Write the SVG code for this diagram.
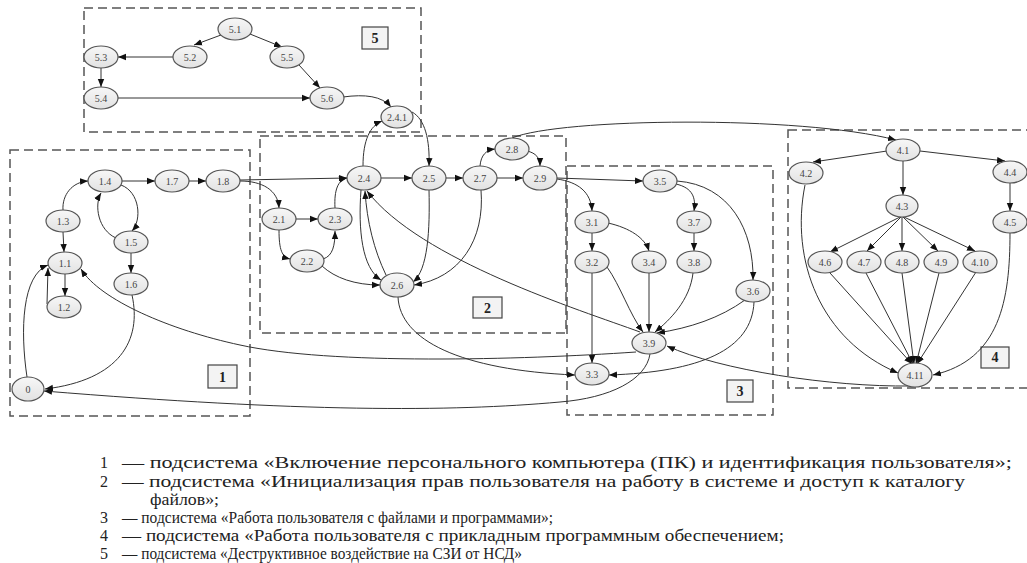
<svg xmlns="http://www.w3.org/2000/svg" width="1027" height="563" viewBox="0 0 1027 563">
<defs>
<linearGradient id="g" x1="0" y1="0" x2="0" y2="1"><stop offset="0" stop-color="#f7f7f7"/><stop offset="1" stop-color="#e2e2e2"/></linearGradient>
<marker id="a" viewBox="0 0 10 10" refX="10" refY="5" markerWidth="8" markerHeight="8" orient="auto" markerUnits="userSpaceOnUse"><path d="M0,1 L10,5 L0,9 z" fill="#111"/></marker>
</defs>
<style>
.box{fill:none;stroke:#555;stroke-width:1.5;stroke-dasharray:9 5}
.node ellipse{fill:url(#g);stroke:#555;stroke-width:1.2}
.node text{font-family:"Liberation Serif",serif;font-size:10px;fill:#444;text-anchor:middle}
.lbl rect{fill:#f3f3f3;stroke:#444;stroke-width:1.2}
.lbl text{font-family:"Liberation Serif",serif;font-size:14px;font-weight:bold;fill:#222;text-anchor:middle}
#edges path{fill:none;stroke:#333;stroke-width:1;marker-end:url(#a)}
.leg{font-family:"Liberation Serif",serif;font-size:16px;fill:#222}
</style>
<rect width="1027" height="563" fill="#fff"/>
<g id="boxes">
<rect class="box" x="84" y="8" width="337" height="124"/>
<rect class="box" x="10" y="150" width="240" height="266"/>
<rect class="box" x="260" y="136" width="306" height="197"/>
<rect class="box" x="567" y="166" width="206" height="249"/>
<rect class="box" x="788" y="130" width="250" height="258"/>
</g>
<g id="labels">
<g id="lbl5" class="lbl"><rect x="362" y="27" width="26" height="22"/><text x="375" y="43">5</text></g>
<g id="lbl1" class="lbl"><rect x="208" y="365" width="29" height="23"/><text x="222.5" y="382">1</text></g>
<g id="lbl2" class="lbl"><rect x="473" y="297" width="29" height="21"/><text x="487.5" y="313">2</text></g>
<g id="lbl3" class="lbl"><rect x="727" y="380" width="26" height="22"/><text x="740" y="396">3</text></g>
<g id="lbl4" class="lbl"><rect x="981" y="347" width="28" height="21"/><text x="995" y="362">4</text></g>
</g>
<g id="edges">
<path d="M221,35 L194,45"/>
<path d="M250,34 L282,47"/>
<path d="M173,57 L118,57"/>
<path d="M101,68 L101,87"/>
<path d="M118,98 L310,98"/>
<path d="M299,65 L320,88"/>
<path d="M343,97 C365,94 382,96 391,107"/>
<path d="M363,166 C363,140 370,126 382,121"/>
<path d="M412,112 C425,119 430,140 429,166"/>
<path d="M63,210 C62,195 72,182 88,181"/>
<path d="M63,232 L64,252"/>
<path d="M122,181 L155,181"/>
<path d="M189,181 L206,181"/>
<path d="M121,185 C140,192 142,220 132,231"/>
<path d="M116,238 C98,230 94,205 101,193"/>
<path d="M131,253 L131,273"/>
<path d="M65,274 L65,296"/>
<path d="M47,304 L48,268"/>
<path d="M27,377 C20,330 22,275 48,265"/>
<path d="M132,295 C142,340 120,380 45,389"/>
<path d="M240,180 L347,178"/>
<path d="M240,181 C262,181 278,190 279,208"/>
<path d="M296,219 L318,219"/>
<path d="M279,230 C279,250 282,257 290,259"/>
<path d="M323,259 C333,256 335,245 335,231"/>
<path d="M335,208 C334,190 338,180 347,178"/>
<path d="M322,266 C335,278 355,285 380,285"/>
<path d="M381,178 L412,178"/>
<path d="M446,178 L463,178"/>
<path d="M497,178 L523,178"/>
<path d="M480,166 C481,155 486,150 495,149"/>
<path d="M527,151 C536,153 540,158 540,166"/>
<path d="M429,190 C430,230 428,270 413,282"/>
<path d="M481,190 C485,240 460,278 414,285"/>
<path d="M361,190 C358,230 362,268 381,280"/>
<path d="M386,275 C374,250 367,222 365,191"/>
<path d="M640,332 C580,310 420,260 367,191"/>
<path d="M557,178 L643,181"/>
<path d="M557,179 C578,182 591,192 592,211"/>
<path d="M676,184 C693,188 696,198 694,211"/>
<path d="M677,181 C730,185 754,230 753,280"/>
<path d="M592,233 L592,251"/>
<path d="M608,223 C630,228 645,238 649,251"/>
<path d="M694,233 L694,251"/>
<path d="M592,273 L592,363"/>
<path d="M607,267 C620,285 630,315 643,332"/>
<path d="M649,273 L649,332"/>
<path d="M693,273 C690,300 670,320 655,332"/>
<path d="M745,300 C720,318 690,328 657,333"/>
<path d="M754,302 C752,350 700,372 609,375"/>
<path d="M398,297 C400,340 460,370 575,375"/>
<path d="M636,352 C520,360 330,365 240,345 C170,330 100,300 81,269"/>
<path d="M650,354 C646,380 610,398 560,402 C450,412 300,412 44,391"/>
<path d="M911,386 C830,387 720,370 667,346"/>
<path d="M512,138 C560,118 800,115 896,140"/>
<path d="M887,151 L813,162"/>
<path d="M903,161 L903,195"/>
<path d="M920,151 L1005,161"/>
<path d="M1010,183 L1010,211"/>
<path d="M900,217 L830,252"/>
<path d="M901,217 L867,251"/>
<path d="M902,217 L902,251"/>
<path d="M903,217 L938,251"/>
<path d="M904,217 L975,251"/>
<path d="M830,273 L912,364"/>
<path d="M866,273 L913,364"/>
<path d="M902,273 L914,364"/>
<path d="M939,273 L916,364"/>
<path d="M976,272 L917,364"/>
<path d="M805,185 C790,260 820,340 898,373"/>
<path d="M1010,233 C1010,300 1000,360 933,375"/>
</g>
<g id="nodes">
<g id="n5_1" class="node"><ellipse cx="235" cy="29" rx="17" ry="11"/><text x="235" y="32.5">5.1</text></g>
<g id="n5_2" class="node"><ellipse cx="190" cy="57" rx="17" ry="11"/><text x="190" y="60.5">5.2</text></g>
<g id="n5_5" class="node"><ellipse cx="287" cy="57" rx="17" ry="11"/><text x="287" y="60.5">5.5</text></g>
<g id="n5_3" class="node"><ellipse cx="101" cy="57" rx="17" ry="11"/><text x="101" y="60.5">5.3</text></g>
<g id="n5_4" class="node"><ellipse cx="101" cy="98" rx="17" ry="11"/><text x="101" y="101.5">5.4</text></g>
<g id="n5_6" class="node"><ellipse cx="327" cy="98" rx="17" ry="11"/><text x="327" y="101.5">5.6</text></g>
<g id="n2_4_1" class="node"><ellipse cx="397" cy="117" rx="16" ry="11"/><text x="397" y="120.5">2.4.1</text></g>
<g id="n1_4" class="node"><ellipse cx="105" cy="181" rx="17" ry="11"/><text x="105" y="184.5">1.4</text></g>
<g id="n1_7" class="node"><ellipse cx="172" cy="181" rx="17" ry="11"/><text x="172" y="184.5">1.7</text></g>
<g id="n1_8" class="node"><ellipse cx="223" cy="181" rx="17" ry="11"/><text x="223" y="184.5">1.8</text></g>
<g id="n1_3" class="node"><ellipse cx="63" cy="221" rx="17" ry="11"/><text x="63" y="224.5">1.3</text></g>
<g id="n1_5" class="node"><ellipse cx="131" cy="242" rx="17" ry="11"/><text x="131" y="245.5">1.5</text></g>
<g id="n1_1" class="node"><ellipse cx="65" cy="263" rx="17" ry="11"/><text x="65" y="266.5">1.1</text></g>
<g id="n1_6" class="node"><ellipse cx="131" cy="284" rx="17" ry="11"/><text x="131" y="287.5">1.6</text></g>
<g id="n1_2" class="node"><ellipse cx="64" cy="307" rx="17" ry="11"/><text x="64" y="310.5">1.2</text></g>
<g id="n0" class="node"><ellipse cx="28" cy="389" rx="16" ry="12"/><text x="28" y="392.5">0</text></g>
<g id="n2_4" class="node"><ellipse cx="364" cy="178" rx="17" ry="12"/><text x="364" y="181.5">2.4</text></g>
<g id="n2_5" class="node"><ellipse cx="429" cy="178" rx="17" ry="12"/><text x="429" y="181.5">2.5</text></g>
<g id="n2_7" class="node"><ellipse cx="480" cy="178" rx="17" ry="12"/><text x="480" y="181.5">2.7</text></g>
<g id="n2_8" class="node"><ellipse cx="512" cy="149" rx="17" ry="11"/><text x="512" y="152.5">2.8</text></g>
<g id="n2_9" class="node"><ellipse cx="540" cy="178" rx="17" ry="12"/><text x="540" y="181.5">2.9</text></g>
<g id="n2_1" class="node"><ellipse cx="279" cy="219" rx="17" ry="11"/><text x="279" y="222.5">2.1</text></g>
<g id="n2_3" class="node"><ellipse cx="335" cy="219" rx="17" ry="11"/><text x="335" y="222.5">2.3</text></g>
<g id="n2_2" class="node"><ellipse cx="307" cy="261" rx="17" ry="11"/><text x="307" y="264.5">2.2</text></g>
<g id="n2_6" class="node"><ellipse cx="397" cy="285" rx="17" ry="12"/><text x="397" y="288.5">2.6</text></g>
<g id="n3_5" class="node"><ellipse cx="660" cy="181" rx="17" ry="11"/><text x="660" y="184.5">3.5</text></g>
<g id="n3_1" class="node"><ellipse cx="592" cy="222" rx="17" ry="11"/><text x="592" y="225.5">3.1</text></g>
<g id="n3_7" class="node"><ellipse cx="694" cy="222" rx="17" ry="11"/><text x="694" y="225.5">3.7</text></g>
<g id="n3_2" class="node"><ellipse cx="592" cy="262" rx="17" ry="11"/><text x="592" y="265.5">3.2</text></g>
<g id="n3_4" class="node"><ellipse cx="649" cy="262" rx="17" ry="11"/><text x="649" y="265.5">3.4</text></g>
<g id="n3_8" class="node"><ellipse cx="694" cy="262" rx="17" ry="11"/><text x="694" y="265.5">3.8</text></g>
<g id="n3_6" class="node"><ellipse cx="753" cy="291" rx="17" ry="11"/><text x="753" y="294.5">3.6</text></g>
<g id="n3_9" class="node"><ellipse cx="649" cy="343" rx="17" ry="11"/><text x="649" y="346.5">3.9</text></g>
<g id="n3_3" class="node"><ellipse cx="592" cy="374" rx="17" ry="11"/><text x="592" y="377.5">3.3</text></g>
<g id="n4_1" class="node"><ellipse cx="903" cy="150" rx="17" ry="11"/><text x="903" y="153.5">4.1</text></g>
<g id="n4_2" class="node"><ellipse cx="806" cy="173" rx="17" ry="11"/><text x="806" y="176.5">4.2</text></g>
<g id="n4_4" class="node"><ellipse cx="1010" cy="172" rx="17" ry="11"/><text x="1010" y="175.5">4.4</text></g>
<g id="n4_3" class="node"><ellipse cx="902" cy="206" rx="16" ry="11"/><text x="902" y="209.5">4.3</text></g>
<g id="n4_5" class="node"><ellipse cx="1010" cy="222" rx="17" ry="11"/><text x="1010" y="225.5">4.5</text></g>
<g id="n4_6" class="node"><ellipse cx="825" cy="262" rx="17" ry="11"/><text x="825" y="265.5">4.6</text></g>
<g id="n4_7" class="node"><ellipse cx="864" cy="262" rx="17" ry="11"/><text x="864" y="265.5">4.7</text></g>
<g id="n4_8" class="node"><ellipse cx="902" cy="262" rx="17" ry="11"/><text x="902" y="265.5">4.8</text></g>
<g id="n4_9" class="node"><ellipse cx="941" cy="262" rx="17" ry="11"/><text x="941" y="265.5">4.9</text></g>
<g id="n4_10" class="node"><ellipse cx="980" cy="262" rx="17" ry="11"/><text x="980" y="265.5">4.10</text></g>
<g id="n4_11" class="node"><ellipse cx="915" cy="375" rx="17" ry="12"/><text x="915" y="378.5">4.11</text></g>
</g>
<g id="legend" class="leg">
<text x="100" y="468">1</text><text x="122" y="468" textLength="890" lengthAdjust="spacingAndGlyphs">— подсистема «Включение персонального компьютера (ПК) и идентификация пользователя»;</text>
<text x="100" y="486.5">2</text><text x="122" y="486.5" textLength="843" lengthAdjust="spacingAndGlyphs">— подсистема «Инициализация прав пользователя на работу в системе и доступ к каталогу</text>
<text x="150" y="504.5" textLength="69" lengthAdjust="spacingAndGlyphs">файлов»;</text>
<text x="100" y="523">3</text><text x="122" y="523" textLength="431" lengthAdjust="spacingAndGlyphs">— подсистема «Работа пользователя с файлами и программами»;</text>
<text x="100" y="541">4</text><text x="122" y="541" textLength="662" lengthAdjust="spacingAndGlyphs">— подсистема «Работа пользователя с прикладным программным обеспечением;</text>
<text x="100" y="559">5</text><text x="122" y="559" textLength="400" lengthAdjust="spacingAndGlyphs">— подсистема «Деструктивное воздействие на СЗИ от НСД»</text>
</g>
</svg>
